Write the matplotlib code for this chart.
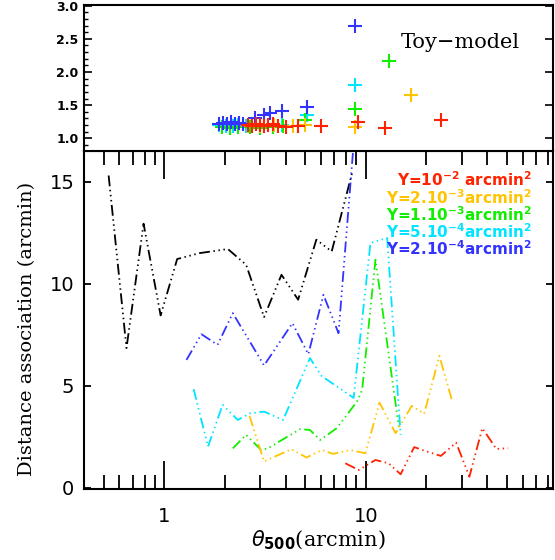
import numpy as np
import matplotlib
matplotlib.use('Agg')
import matplotlib.pyplot as plt
from matplotlib.ticker import FixedLocator, MultipleLocator, NullFormatter

# Datos del panel inferior (distancia de asociacion vs theta500)
negro_x = [0.53, 0.65, 0.79, 0.96, 1.16, 1.5, 2.07, 2.55, 3.13, 3.82, 4.62, 5.69, 6.78, 8.6]
negro_y = [15.3, 6.85, 12.94, 8.45, 11.21, 11.5, 11.7, 10.93, 8.37, 10.44, 9.22, 12.16, 11.58, 15.5]

azul_x = [1.29, 1.53, 1.84, 2.19, 3.13, 4.33, 5.19, 6.17, 7.33, 8.9]
azul_y = [6.27, 7.53, 7.01, 8.56, 6.0, 8.07, 6.55, 9.46, 7.58, 18.0]

cian_x = [1.40, 1.65, 1.95, 2.32, 2.65, 3.13, 3.89, 5.29, 6.03, 8.71, 10.56, 12.78, 14.9]
cian_y = [4.84, 2.03, 4.07, 3.33, 3.65, 3.74, 3.33, 6.36, 5.49, 4.41, 12.0, 12.24, 2.6]

verde_x = [2.19, 2.55, 3.03, 3.27, 4.72, 5.29, 5.94, 7.19, 9.05, 9.6, 11.18, 14.6]
verde_y = [1.94, 2.6, 1.86, 1.94, 2.88, 2.84, 2.35, 2.93, 4.23, 4.8, 11.18, 3.0]

naranja_x = [2.65, 3.13, 4.28, 5.09, 6.05, 6.9, 8.37, 9.96, 11.71, 14.07, 16.92, 19.5, 23.2, 26.8]
naranja_y = [3.53, 1.3, 1.9, 1.49, 1.86, 1.67, 1.86, 1.7, 4.18, 2.68, 4.02, 3.63, 6.47, 4.28]

rojo_x = [7.92, 9.23, 11.18, 13.0, 14.9, 17.4, 20.2, 23.6, 28.1, 32.7, 37.9, 44.5, 50.9]
rojo_y = [1.21, 0.88, 1.37, 1.21, 0.67, 2.0, 1.78, 1.57, 2.22, 0.55, 2.93, 1.91, 1.95]

# Datos del panel superior (Toy-model)
cruz_azul_x = [1.86, 1.95, 2.04, 2.14, 2.24, 2.34, 2.45, 2.82, 3.13, 3.35, 3.85, 5.13, 8.81]
cruz_azul_y = [1.22, 1.23, 1.21, 1.24, 1.22, 1.23, 1.22, 1.30, 1.35, 1.38, 1.42, 1.47, 2.70]
cruz_cian_x = [1.88, 2.02, 2.19, 2.32, 2.54, 3.85, 5.13, 8.81]
cruz_cian_y = [1.20, 1.19, 1.18, 1.20, 1.18, 1.20, 1.35, 1.81]
cruz_verde_x = [1.93, 2.11, 2.32, 2.66, 2.98, 3.47, 3.89, 5.01, 8.81, 13.0]
cruz_verde_y = [1.17, 1.16, 1.17, 1.17, 1.16, 1.17, 1.18, 1.27, 1.44, 2.16]
cruz_naranja_x = [2.6, 2.98, 3.51, 4.37, 5.01, 8.81, 16.7]
cruz_naranja_y = [1.19, 1.18, 1.20, 1.19, 1.20, 1.17, 1.65]
cruz_rojo_x = [2.6, 2.72, 2.85, 2.98, 3.13, 3.27, 3.47, 3.67, 4.03, 4.62, 6.03, 9.12, 12.4, 23.7]
cruz_rojo_y = [1.20, 1.19, 1.21, 1.20, 1.19, 1.20, 1.21, 1.19, 1.17, 1.18, 1.18, 1.24, 1.16, 1.27]

etiquetas = [r'Y=10$^{\mathbf{-2}}$ arcmin$^{\mathbf{2}}$',
             r'Y=2.10$^{\mathbf{-3}}$arcmin$^{\mathbf{2}}$',
             r'Y=1.10$^{\mathbf{-3}}$arcmin$^{\mathbf{2}}$',
             r'Y=5.10$^{\mathbf{-4}}$arcmin$^{\mathbf{2}}$',
             r'Y=2.10$^{\mathbf{-4}}$arcmin$^{\mathbf{2}}$']

ROJO = '#ff2200'
NARANJA = '#ffc400'
VERDE = '#11ee00'
CIAN = '#00e5ff'
AZUL = '#3333ff'
colores_etiquetas = [ROJO, NARANJA, VERDE, CIAN, AZUL]

estilo = (0, (6, 2, 0.8, 2, 0.8, 2, 0.8, 2))

fig = plt.figure(figsize=(5.55, 5.6), dpi=100)
izq, der = 84 / 555, 553 / 555
ax_inf = fig.add_axes([izq, 1 - 489 / 560, der - izq, (489 - 151) / 560])
ax_sup = fig.add_axes([izq, 1 - 151 / 560, der - izq, (151 - 5) / 560])

# Panel inferior
ax_inf.plot(negro_x, negro_y, color='black', lw=1.3, ls=estilo)
ax_inf.plot(azul_x, azul_y, color=AZUL, lw=1.3, ls=estilo)
ax_inf.plot(cian_x, cian_y, color=CIAN, lw=1.3, ls=estilo)
ax_inf.plot(verde_x, verde_y, color=VERDE, lw=1.3, ls=estilo)
ax_inf.plot(naranja_x, naranja_y, color=NARANJA, lw=1.3, ls=estilo)
ax_inf.plot(rojo_x, rojo_y, color=ROJO, lw=1.3, ls=estilo)

ax_inf.set_xscale('log')
ax_inf.set_xlim(0.4, 85)
ax_inf.set_ylim(-0.05, 16.5)
ax_inf.yaxis.set_major_locator(FixedLocator([0, 5, 10, 15]))
ax_inf.xaxis.set_major_locator(FixedLocator([1, 10]))
ax_inf.set_xticklabels(['1', '10'])
ax_inf.xaxis.set_minor_formatter(NullFormatter())
ax_inf.tick_params(axis='x', which='major', direction='in', length=20, width=1.3,
                   top=True, bottom=True, labelsize=14, pad=13)
ax_inf.tick_params(axis='x', which='minor', direction='in', length=10, width=1.3,
                   top=True, bottom=True)
ax_inf.tick_params(axis='y', which='major', direction='in', length=5, width=1.3,
                   left=True, right=True, labelsize=14, pad=7)
ax_inf.set_xlabel(r'$\theta_{\mathbf{500}}$(arcmin)', fontfamily='DejaVu Serif', fontsize=15, labelpad=2)
for s in ax_inf.spines.values():
    s.set_linewidth(1.5)

for i, (txt, col) in enumerate(zip(etiquetas, colores_etiquetas)):
    ax_inf.text(532 / 555, 1 - (180 + i * 17.2) / 560, txt, transform=fig.transFigure,
                ha='right', va='center', color=col, fontsize=11, fontweight='bold')

# Panel superior
ax_sup.plot(cruz_cian_x, cruz_cian_y, '+', color=CIAN, ms=10, mew=1.5)
ax_sup.plot(cruz_verde_x, cruz_verde_y, '+', color=VERDE, ms=10, mew=1.5)
ax_sup.plot(cruz_naranja_x, cruz_naranja_y, '+', color=NARANJA, ms=10, mew=1.5)
ax_sup.plot(cruz_azul_x, cruz_azul_y, '+', color=AZUL, ms=10, mew=1.5)
ax_sup.plot(cruz_rojo_x, cruz_rojo_y, '+', color=ROJO, ms=10, mew=1.5)
ax_sup.set_xscale('log')
ax_sup.set_xlim(0.4, 85)
ax_sup.set_ylim(0.81, 3.01)
ax_sup.yaxis.set_major_locator(MultipleLocator(0.5))
ax_sup.yaxis.set_minor_locator(MultipleLocator(0.1))
ax_sup.tick_params(axis='x', which='both', bottom=False, top=False, labelbottom=False)
ax_sup.tick_params(axis='y', which='major', direction='in', length=6, width=1.2,
                   left=True, right=True, labelsize=9, pad=4)
ax_sup.tick_params(axis='y', which='minor', direction='in', length=3, width=1,
                   left=True, right=False)
for lab in ax_sup.get_yticklabels():
    lab.set_fontweight('bold')
for s in ax_sup.spines.values():
    s.set_linewidth(1.5)
ax_sup.text(460 / 555, 1 - 42 / 560, 'Toy\u2212model', transform=fig.transFigure,
            ha='center', va='center', fontfamily='DejaVu Serif', fontsize=15)

fig.text(27 / 555, 1 - 329 / 560, 'Distance association (arcmin)', rotation=90,
         ha='center', va='center', fontfamily='DejaVu Serif', fontsize=14)

plt.savefig('out.png', dpi=100)
